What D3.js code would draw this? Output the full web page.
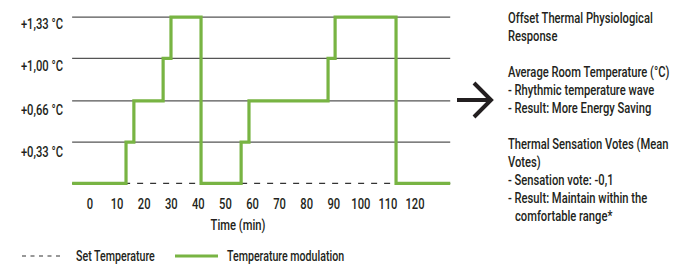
<!DOCTYPE html>
<html><head><meta charset="utf-8">
<script src="https://cdn.jsdelivr.net/npm/d3@7"></script>
<style>
html,body{margin:0;padding:0;background:#fff;}
text{font-family:Roboto,"Liberation Sans",sans-serif;fill:#231f20;}
</style></head>
<body>
<svg id="c" width="684" height="265"></svg>
<script>
// ---- data ----
const yTicks = [0.33, 0.66, 1.00, 1.33];
const yTickLabels = ["+0,33 °C", "+0,66 °C", "+1,00 °C", "+1,33 °C"];
const xTicks = [0,10,20,30,40,50,60,70,80,90,100,110,120];
const modTimes  = [-6.6, 13.3, 16.2, 27.0, 29.9, 41.0, 55.8, 58.7, 87.9, 90.5, 113.0, 133.0];
const modValues = [0,    0.33, 0.66, 1.00, 1.33, 0,    0.33, 0.66, 1.00, 1.33, 0,     0];
const setTimes  = [-6.6, 133.0];
const setValues = [0, 0];
const xTitle = "Time (min)";
const legendLabels = ["Set Temperature", "Temperature modulation"];
const noteLines = [
  {t:"Offset Thermal Physiological", indent:0},
  {t:"Response", indent:0},
  {t:"", indent:0},
  {t:"Average Room Temperature (°C)", indent:0},
  {t:"- Rhythmic temperature wave", indent:0},
  {t:"- Result: More Energy Saving", indent:0},
  {t:"", indent:0},
  {t:"Thermal Sensation Votes (Mean", indent:0},
  {t:"Votes)", indent:0},
  {t:"- Sensation vote: -0,1", indent:0},
  {t:"- Result: Maintain within the", indent:0},
  {t:"comfortable range*", indent:1}
];

// ---- drawing ----
const svg = d3.select("#c");
const green = "#78b443";
const FS = 14;

// condensed look: squeeze text horizontally so the first note line is ~145px wide
const probe = svg.append("text").attr("font-size", FS).attr("font-weight", 500).text(noteLines[0].t);
const SX = 145 / probe.node().getComputedTextLength();
probe.remove();

function txt(g, x0, y0, s, anchor, sx) {
  return g.append("text")
    .attr("transform", `translate(${x0},${y0}) scale(${SX*(sx||1)},1)`)
    .attr("text-anchor", anchor || "start")
    .attr("dominant-baseline", "central")
    .attr("font-size", FS)
    .attr("font-weight", 500)
    .text(s);
}

const x = d3.scaleLinear().domain([0,120]).range([90,415]);
const y = d3.scaleLinear().domain([0,1.33]).range([183.3,17.2]);
const labelY = d3.scaleLinear().domain([0.33,1.33]).range([152,24]);
const xL = x(modTimes[0]), xR = x(modTimes[modTimes.length-1]);

// gridlines
svg.append("g").selectAll("line").data(yTicks).join("line")
  .attr("x1", xL).attr("x2", xR)
  .attr("y1", d=>y(d)).attr("y2", d=>y(d))
  .attr("stroke", "#555").attr("stroke-width", 1.3);

// y labels
const gy = svg.append("g");
yTicks.forEach((d,i)=> txt(gy, 63, labelY(d), yTickLabels[i], "end"));

// set temperature dashed line
const lineGen = d3.line().x(d=>x(d[0])).y(d=>y(d[1]));
svg.append("path")
  .attr("d", lineGen(setTimes.map((t,i)=>[t,setValues[i]])))
  .attr("fill","none").attr("stroke","#333").attr("stroke-width",1.2)
  .attr("stroke-dasharray","6,7");

// modulation step line
const stepGen = d3.line().x(d=>x(d[0])).y(d=>y(d[1])).curve(d3.curveStepAfter);
svg.append("path")
  .attr("d", stepGen(modTimes.map((t,i)=>[t,modValues[i]])))
  .attr("fill","none").attr("stroke",green).attr("stroke-width",3.2)
  .attr("stroke-linejoin","miter");

// x tick labels
const gx = svg.append("g");
xTicks.forEach(d=> txt(gx, x(d), 204, String(d), "middle"));
txt(svg, 238, 225, xTitle, "middle");

// legend
svg.append("line").attr("x1",22).attr("x2",64).attr("y1",256).attr("y2",256)
  .attr("stroke","#333").attr("stroke-width",1.2).attr("stroke-dasharray","4,4.5");
txt(svg, 76, 256, legendLabels[0], "start", 0.95);
svg.append("line").attr("x1",175).attr("x2",218).attr("y1",256).attr("y2",256)
  .attr("stroke",green).attr("stroke-width",3.2);
txt(svg, 227, 256, legendLabels[1], "start", 0.95);

// arrow
const arrow = svg.append("g").attr("stroke","#231f20").attr("stroke-width",4).attr("fill","none");
arrow.append("line").attr("x1",457).attr("x2",491).attr("y1",100).attr("y2",100);
arrow.append("path").attr("d","M474,83 L491,100 L474,117").attr("stroke-linejoin","miter");

// notes
const gn = svg.append("g");
noteLines.forEach((d,i)=> txt(gn, 508 + d.indent*7, 18 + i*18, d.t, "start"));
</script>
</body></html>
